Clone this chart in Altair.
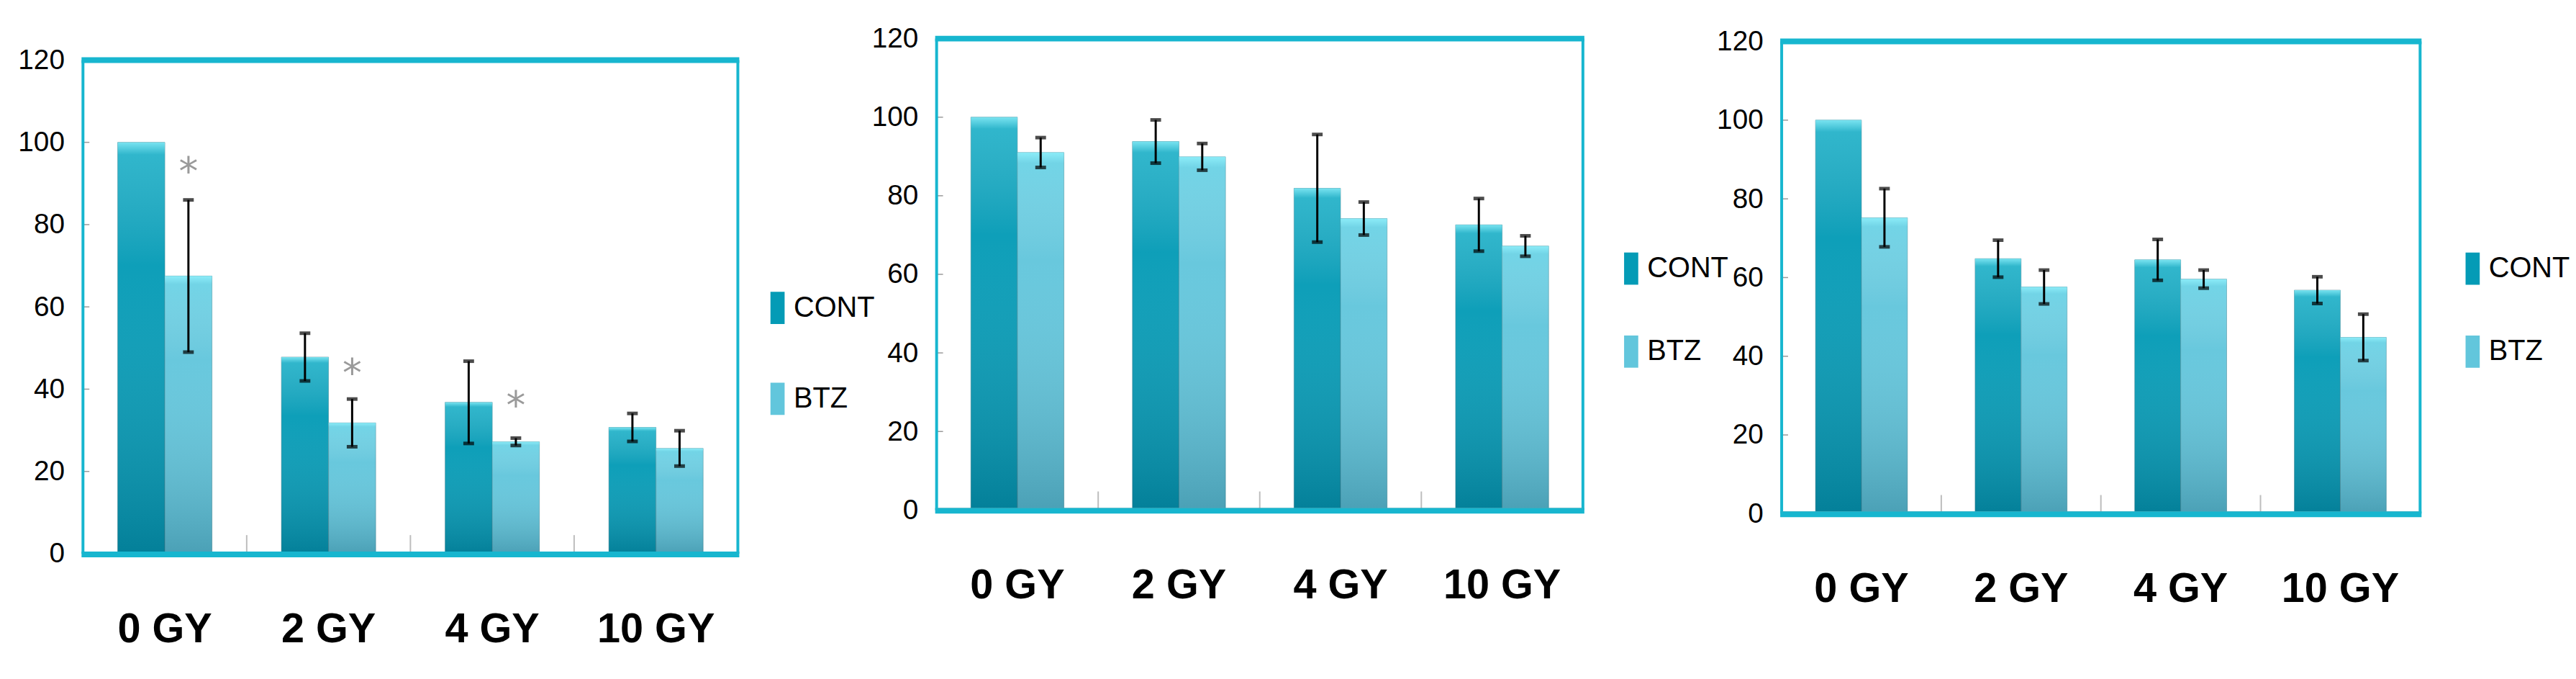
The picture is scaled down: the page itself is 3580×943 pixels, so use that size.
import altair as alt
import pandas as pd

doses = ["0 GY", "2 GY", "4 GY", "10 GY"]
groups = ["CONT", "BTZ"]
y_ticks = [0, 20, 40, 60, 80, 100, 120]
boundary_doses = ["2 GY", "4 GY", "10 GY"]

# Panel 1
p1_cont = [100.0, 47.8, 36.8, 30.7]
p1_cont_err = [0.0, 5.8, 10.0, 3.4]
p1_btz = [67.5, 31.8, 27.2, 25.6]
p1_btz_err = [18.5, 5.8, 0.9, 4.3]
p1_star_doses = ["0 GY", "2 GY", "4 GY"]
p1_star_y = [95.3, 46.4, 38.4]

# Panel 2
p2_cont = [100.0, 93.8, 81.9, 72.6]
p2_cont_err = [0.0, 5.5, 13.7, 6.7]
p2_btz = [91.0, 89.9, 74.2, 67.2]
p2_btz_err = [3.8, 3.4, 4.2, 2.6]

# Panel 3
p3_cont = [100.0, 64.8, 64.5, 56.8]
p3_cont_err = [0.0, 4.7, 5.2, 3.4]
p3_btz = [75.2, 57.6, 59.6, 44.8]
p3_btz_err = [7.4, 4.3, 2.3, 5.9]

FRAME = "#17b6cf"
COLORS = ["#049bb6", "#62c6dc"]
FONT = "'Liberation Sans', Arial, sans-serif"


def panel_df(cont, cont_err, btz, btz_err):
    rows = []
    for i, d in enumerate(doses):
        rows.append(dict(dose=d, group="CONT", value=cont[i], err=cont_err[i]))
        rows.append(dict(dose=d, group="BTZ", value=btz[i], err=btz_err[i]))
    df = pd.DataFrame(rows)
    df["low"] = df["value"] - df["err"]
    df["high"] = df["value"] + df["err"]
    return df


def make_panel(df, w, h, top, legend_x, legend_y, row_pad, star_doses=None, star_y=None):
    yscale = alt.Scale(domain=[0, 120], range=[h, top], nice=False, zero=True)
    x_enc = alt.X(
        "dose:N", sort=doses, title=None,
        scale=alt.Scale(paddingInner=0, paddingOuter=0),
        axis=alt.Axis(title=None, labelAngle=0, labelFont=FONT, labelFontSize=58,
                      labelFontWeight="bold", labelColor="black", labelPadding=77,
                      ticks=False, tickSize=0, domain=False, grid=False),
    )
    x_plain = alt.X("dose:N", sort=doses, title=None)
    xoff = alt.XOffset("group:N", sort=groups,
                       scale=alt.Scale(paddingInner=0, paddingOuter=0.736))
    y_enc = alt.Y(
        "value:Q", scale=yscale, title=None,
        axis=alt.Axis(title=None, values=y_ticks, labelFont=FONT, labelFontSize=39,
                      labelColor="black", labelPadding=26, ticks=False, tickSize=0,
                      domain=False, grid=False),
    )
    base = alt.Chart(df)
    bars = base.mark_bar(stroke="#3d7f8c", strokeWidth=1, strokeOpacity=0.5).encode(
        x=x_enc, y=y_enc, xOffset=xoff,
        color=alt.Color(
            "group:N", sort=groups,
            scale=alt.Scale(domain=groups, range=COLORS),
            legend=alt.Legend(
                title=None, orient="none", legendX=legend_x, legendY=legend_y,
                direction="vertical",
                symbolType="M-0.44,-1H0.44V1H-0.44Z", symbolSize=2025,
                symbolStrokeWidth=0, labelFont=FONT, labelFontSize=40,
                labelColor="black", rowPadding=row_pad, labelOffset=0, padding=0,
            ),
        ),
    )
    shade = base.mark_bar(
        color=alt.LinearGradient(
            gradient="linear",
            stops=[
                alt.GradientStop(color="rgba(150,245,255,0.8)", offset=0),
                alt.GradientStop(color="rgba(150,245,255,0.3)", offset=0.03),
                alt.GradientStop(color="rgba(255,255,255,0.04)", offset=0.3),
                alt.GradientStop(color="rgba(0,40,60,0.24)", offset=1),
            ],
            x1=0, x2=0, y1=0, y2=1,
        )
    ).encode(x=x_plain, y=alt.Y("value:Q", title=None), xOffset=xoff)

    edf = df[df["err"] > 0]
    ebase = alt.Chart(edf)
    erule = ebase.mark_rule(color="black", strokeWidth=3).encode(
        x=x_plain, xOffset=xoff, y=alt.Y("low:Q", title=None), y2="high:Q")
    cap_lo = ebase.mark_tick(color="black", thickness=5, size=15).encode(
        x=x_plain, xOffset=xoff, y=alt.Y("low:Q", title=None))
    cap_hi = ebase.mark_tick(color="black", thickness=5, size=15).encode(
        x=x_plain, xOffset=xoff, y=alt.Y("high:Q", title=None))

    bdf = pd.DataFrame({"dose": boundary_doses})
    bticks = alt.Chart(bdf).mark_rule(color="#bdbdbd", strokeWidth=2).encode(
        x=alt.X("dose:N", sort=doses, bandPosition=0, title=None),
        y=alt.value(h - 26), y2=alt.value(h))

    tdf = pd.DataFrame({"v": y_ticks})
    yt = alt.Chart(tdf).mark_rule(color="#9a9a9a", strokeWidth=1.5).encode(
        y=alt.Y("v:Q", title=None), x=alt.value(0), x2=alt.value(9))

    one = pd.DataFrame({"a": [0]})
    fr = alt.Chart(one)
    left = fr.mark_rule(color=FRAME, strokeWidth=4).encode(
        x=alt.value(0), y=alt.value(top), y2=alt.value(h))
    right = fr.mark_rule(color=FRAME, strokeWidth=4).encode(
        x=alt.value(w), y=alt.value(top), y2=alt.value(h))
    topl = fr.mark_rule(color=FRAME, strokeWidth=8).encode(
        x=alt.value(-2), x2=alt.value(w + 2), y=alt.value(top))
    botl = fr.mark_rule(color=FRAME, strokeWidth=8).encode(
        x=alt.value(-2), x2=alt.value(w + 2), y=alt.value(h + 1))
    zero = fr.mark_rule(color="#8a9a9e", strokeWidth=2).encode(
        x=alt.value(0), x2=alt.value(w), y=alt.value(h - 2))

    layers = [bars, shade, bticks, yt, erule, cap_lo, cap_hi]
    if star_doses:
        sdf = pd.DataFrame({"dose": star_doses, "group": ["BTZ"] * len(star_doses),
                            "sy": star_y})
        stars = alt.Chart(sdf).mark_text(
            text="*", color="#9a9a9a", fontSize=54, font="DejaVu Sans",
            baseline="alphabetic", dy=32,
        ).encode(x=x_plain, xOffset=xoff, y=alt.Y("sy:Q", title=None))
        layers.append(stars)
    layers += [left, right, topl, zero, botl]
    return alt.layer(*layers).properties(width=w, height=h)


df1 = panel_df(p1_cont, p1_cont_err, p1_btz, p1_btz_err)
df2 = panel_df(p2_cont, p2_cont_err, p2_btz, p2_btz_err)
df3 = panel_df(p3_cont, p3_cont_err, p3_btz, p3_btz_err)

c1 = make_panel(df1, 916, 720, 30, 949, 354, 82, p1_star_doses, p1_star_y)
c2 = make_panel(df2, 904, 659, 0, 949, 299, 71)
c3 = make_panel(df3, 893, 664, 4, 944, 299, 71)

chart = alt.hconcat(c1, c2, c3, spacing=278, bounds="flush").resolve_scale(
    color="independent", x="independent", y="independent", xOffset="independent"
).resolve_legend(color="independent").properties(
    padding={"left": 16, "top": 24, "right": 0, "bottom": 0}
).configure_view(stroke=None)

chart.save("out.html", embed_options={"renderer": "svg", "actions": False})
